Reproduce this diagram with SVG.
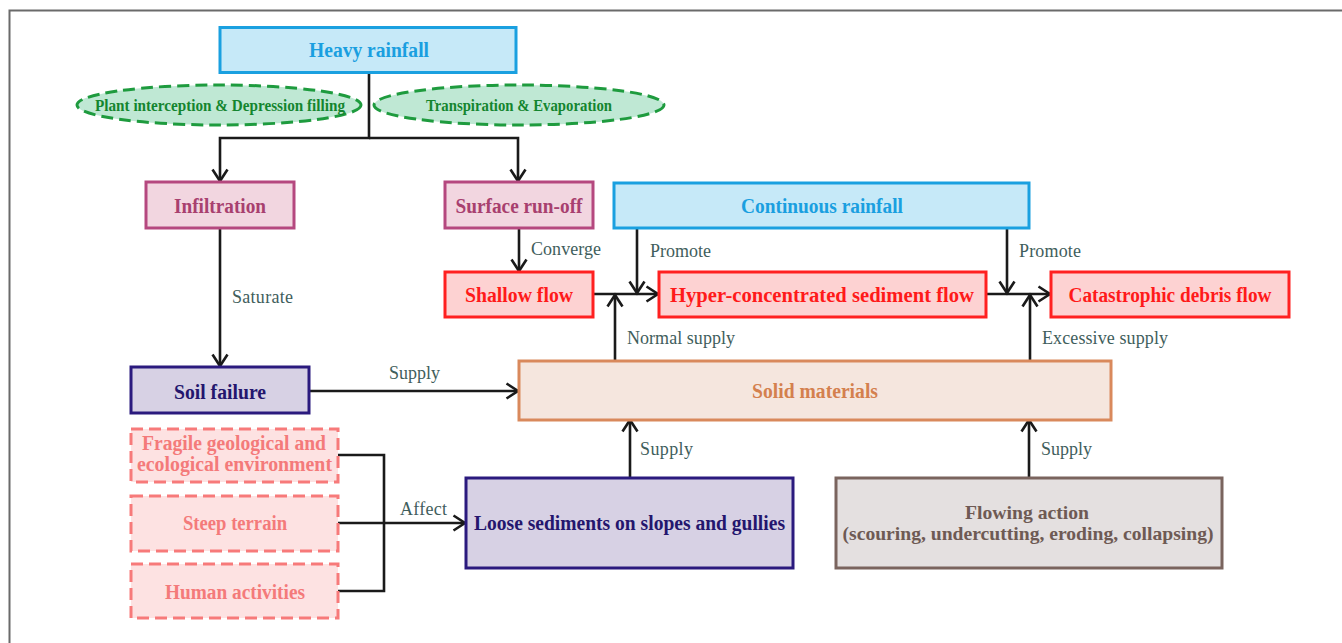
<svg xmlns="http://www.w3.org/2000/svg" width="1342" height="643" viewBox="0 0 1342 643">
<defs>
<marker id="arr" markerUnits="userSpaceOnUse" markerWidth="16" markerHeight="20" refX="12.5" refY="8" orient="auto" overflow="visible">
<path d="M1,0.5 L12.5,8 L1,15.5" fill="none" stroke="#1a1a1a" stroke-width="2.6"/>
</marker>
<style>
text{font-family:"Liberation Serif","Times New Roman",serif;text-anchor:middle}
.b{font-weight:bold;font-size:20.5px}
.lbl{font-size:18px;fill:#3f5e5c;text-anchor:start}
.blue rect{fill:#c6e9f8;stroke:#1aa0e0;stroke-width:3}
.blue text{fill:#1a9fe0}
.green ellipse{fill:#bfe8d4;stroke:#1e9b3e;stroke-width:3;stroke-dasharray:12 6}
.green text{fill:#14852f;font-size:16px;font-weight:bold}
.mag rect{fill:#f2d6e0;stroke:#b5487f;stroke-width:3}
.mag text{fill:#a8406f}
.red rect{fill:#fdd2d2;stroke:#ff2020;stroke-width:3}
.red text{fill:#ff1a1a}
.pur rect{fill:#d7d1e4;stroke:#2b1a7e;stroke-width:3}
.pur text{fill:#24166e}
.org rect{fill:#f5e6de;stroke:#d9895c;stroke-width:3}
.org text{fill:#d4804e}
.pink rect{fill:#fde2e2;stroke:#f77a7a;stroke-width:3;stroke-dasharray:12 6}
.pink text{fill:#f47a7a}
.brn rect{fill:#e4e0e0;stroke:#7a645e;stroke-width:3}
.brn text{fill:#6e5a54}
#connectors path{fill:none;stroke:#1a1a1a;stroke-width:2.6}
</style>
</defs>
<rect x="0" y="0" width="1342" height="643" fill="#fff"/>
<path d="M9.5,643 V10.5 H1342" fill="none" stroke="#6a6a6a" stroke-width="2"/>

<g id="connectors">
<path d="M369,72 V138 H220 V181" marker-end="url(#arr)"/>
<path d="M369,138 H518 V181" marker-end="url(#arr)"/>
<path d="M220,228 V366" marker-end="url(#arr)"/>
<path d="M519,228 V271" marker-end="url(#arr)"/>
<path d="M593,294 H658" marker-end="url(#arr)"/>
<path d="M637,228 V293" marker-end="url(#arr)"/>
<path d="M615,361 V295" marker-end="url(#arr)"/>
<path d="M986,294 H1050" marker-end="url(#arr)"/>
<path d="M1007,228 V293" marker-end="url(#arr)"/>
<path d="M1030,361 V295" marker-end="url(#arr)"/>
<path d="M309,391 H518" marker-end="url(#arr)"/>
<path d="M630,478 V420" marker-end="url(#arr)"/>
<path d="M1029,478 V420" marker-end="url(#arr)"/>
<path d="M338,455 H384 V591 H338"/>
<path d="M338,523 H465" marker-end="url(#arr)"/>
<text class="lbl" x="232" y="303" textLength="61">Saturate</text>
<text class="lbl" x="531" y="255" textLength="70">Converge</text>
<text class="lbl" x="650" y="257" textLength="61">Promote</text>
<text class="lbl" x="1019" y="257" textLength="62">Promote</text>
<text class="lbl" x="627" y="344" textLength="108">Normal supply</text>
<text class="lbl" x="1042" y="344" textLength="126">Excessive supply</text>
<text class="lbl" x="389" y="379" textLength="51">Supply</text>
<text class="lbl" x="640" y="455" textLength="53">Supply</text>
<text class="lbl" x="1041" y="455" textLength="51">Supply</text>
<text class="lbl" x="400" y="515" textLength="47">Affect</text>
</g>

<g id="heavy-rainfall" class="blue">
<rect x="220" y="27.5" width="296" height="45"/>
<text class="b" x="369" y="57" textLength="120" lengthAdjust="spacingAndGlyphs">Heavy rainfall</text>
</g>
<g id="plant-interception" class="green">
<ellipse cx="219" cy="105" rx="142" ry="20"/>
<text x="220" y="110.5" textLength="250" lengthAdjust="spacingAndGlyphs">Plant interception &amp; Depression filling</text>
</g>
<g id="transpiration" class="green">
<ellipse cx="519" cy="105" rx="145" ry="20"/>
<text x="519" y="110.5" textLength="186" lengthAdjust="spacingAndGlyphs">Transpiration &amp; Evaporation</text>
</g>
<g id="infiltration" class="mag">
<rect x="146" y="182" width="148" height="46"/>
<text class="b" x="220" y="213" textLength="92" lengthAdjust="spacingAndGlyphs">Infiltration</text>
</g>
<g id="surface-runoff" class="mag">
<rect x="445" y="182" width="148" height="46"/>
<text class="b" x="519" y="213" textLength="127" lengthAdjust="spacingAndGlyphs">Surface run-off</text>
</g>
<g id="continuous-rainfall" class="blue">
<rect x="614" y="183" width="415" height="45"/>
<text class="b" x="822" y="213" textLength="162" lengthAdjust="spacingAndGlyphs">Continuous rainfall</text>
</g>
<g id="shallow-flow" class="red">
<rect x="445" y="272" width="148" height="45"/>
<text class="b" x="519" y="302" textLength="108" lengthAdjust="spacingAndGlyphs">Shallow flow</text>
</g>
<g id="hyper-flow" class="red">
<rect x="659" y="272" width="327" height="45"/>
<text class="b" x="822" y="302" textLength="304" lengthAdjust="spacingAndGlyphs">Hyper-concentrated sediment flow</text>
</g>
<g id="debris-flow" class="red">
<rect x="1051" y="272" width="238" height="45"/>
<text class="b" x="1170" y="302" textLength="203" lengthAdjust="spacingAndGlyphs">Catastrophic debris flow</text>
</g>
<g id="soil-failure" class="pur">
<rect x="131" y="367" width="178" height="46"/>
<text class="b" x="220" y="399" textLength="92" lengthAdjust="spacingAndGlyphs">Soil failure</text>
</g>
<g id="solid-materials" class="org">
<rect x="519" y="361" width="592" height="59"/>
<text class="b" x="815" y="398" textLength="126" lengthAdjust="spacingAndGlyphs">Solid materials</text>
</g>
<g id="fragile" class="pink">
<rect x="131" y="429" width="207" height="53"/>
<text class="b" x="234" y="450" textLength="184" lengthAdjust="spacingAndGlyphs">Fragile geological and</text>
<text class="b" x="234.5" y="471" textLength="195" lengthAdjust="spacingAndGlyphs">ecological environment</text>
</g>
<g id="steep-terrain" class="pink">
<rect x="131" y="496" width="207" height="55"/>
<text class="b" x="235" y="530" textLength="104" lengthAdjust="spacingAndGlyphs">Steep terrain</text>
</g>
<g id="human-activities" class="pink">
<rect x="131" y="564" width="207" height="54"/>
<text class="b" x="235" y="599" textLength="140" lengthAdjust="spacingAndGlyphs">Human activities</text>
</g>
<g id="loose-sediments" class="pur">
<rect x="466" y="478" width="327" height="90"/>
<text class="b" x="629.5" y="530" textLength="311" lengthAdjust="spacingAndGlyphs">Loose sediments on slopes and gullies</text>
</g>
<g id="flowing-action" class="brn">
<rect x="836" y="478" width="386" height="90"/>
<text class="b" x="1027" y="519" textLength="124" lengthAdjust="spacingAndGlyphs" style="font-size:19.5px">Flowing action</text>
<text class="b" x="1028" y="540" textLength="371" lengthAdjust="spacingAndGlyphs" style="font-size:19.5px">(scouring, undercutting, eroding, collapsing)</text>
</g>
</svg>
